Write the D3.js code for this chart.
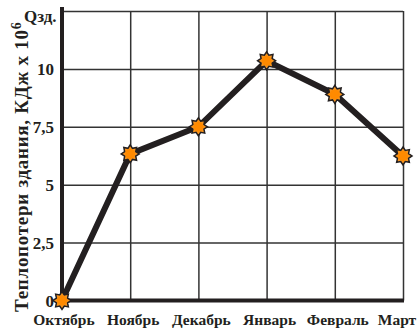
<!DOCTYPE html>
<html><head><meta charset="utf-8">
<script src="https://cdn.jsdelivr.net/npm/d3@7"></script>
<style>body{margin:0;background:#fff}svg{display:block}</style>
</head><body>
<script>
const months = ["Октябрь","Ноябрь","Декабрь","Январь","Февраль","Март"];
const heatLoss = [0, 6.33, 7.5, 10.35, 8.9, 6.24];
const yTicks = [0, 2.5, 5, 7.5, 10];
const yTickLabels = ["0","2,5","5","7,5","10"];
const yTitle = "Теплопотери здания,  КДж х 10";
const yTop = 12.5;

const W = 418, H = 331;
const svg = d3.select("body").append("svg").attr("width", W).attr("height", H);
const x = d3.scalePoint().domain(months).range([62, 403]);
const y = d3.scaleLinear().domain([0, yTop]).range([300.5, 11]);
const dark = "#231f20";
const font = "'Liberation Serif','Times New Roman',serif";

// horizontal grid via axis
const hg = svg.append("g").attr("class", "hgrid")
  .attr("transform", `translate(${x(months[0])},0)`)
  .call(d3.axisRight(y).tickValues([2.5, 5, 7.5, 10, 12.5])
    .tickSize(x(months[5]) - x(months[0])).tickFormat(""));
hg.select(".domain").remove();
hg.selectAll("line").attr("stroke", "#333").attr("stroke-width", 1.5);

// vertical grid via axis
const vg = svg.append("g").attr("class", "vgrid")
  .attr("transform", `translate(0,${y(yTop)})`)
  .call(d3.axisBottom(x).tickValues(months.slice(1))
    .tickSize(y(0) - y(yTop)).tickFormat(""));
vg.select(".domain").remove();
vg.selectAll("line").attr("stroke", "#333").attr("stroke-width", 1.5);

// axes lines
svg.append("path").attr("class", "yaxis")
  .attr("d", `M${x(months[0])},7V${y(0) + 2}`)
  .attr("stroke", dark).attr("stroke-width", 4).attr("fill", "none");
svg.append("path").attr("class", "xaxis")
  .attr("d", `M${x(months[0]) - 2},${y(0)}H${x(months[5]) + 1}`)
  .attr("stroke", dark).attr("stroke-width", 4).attr("fill", "none");

// tick labels
svg.selectAll("text.yl").data(yTicks).join("text").attr("class", "yl")
  .attr("x", 54).attr("y", d => y(d) + 6)
  .attr("text-anchor", "end").attr("font-family", font).attr("font-weight", "bold")
  .attr("font-size", 17).attr("fill", dark)
  .text((d, i) => yTickLabels[i]);

svg.selectAll("text.xl").data(months).join("text").attr("class", "xl")
  .attr("x", (d, i) => x(d) + (i === 5 ? -6 : i === 0 ? 2 : 3)).attr("y", 325)
  .attr("text-anchor", "middle").attr("font-family", font).attr("font-weight", "bold")
  .attr("font-size", 15.5).attr("fill", dark)
  .text(d => d);

// Q label
svg.append("text").attr("x", 24).attr("y", 22)
  .attr("font-family", font).attr("font-weight", "bold").attr("font-size", 17)
  .attr("fill", dark).text("Qзд.");

// y title
const t = svg.append("text").attr("transform", "translate(28,312) rotate(-90)")
  .attr("font-family", font).attr("font-weight", "bold").attr("font-size", 19)
  .attr("fill", dark);
t.append("tspan").attr("textLength", 282).attr("lengthAdjust", "spacing").text(yTitle);
t.append("tspan").attr("dy", -7).attr("font-size", 14).text("6");

// line
svg.append("path").datum(heatLoss).attr("class", "series")
  .attr("fill", "none").attr("stroke", dark).attr("stroke-width", 6)
  .attr("stroke-linejoin", "miter")
  .attr("d", d3.line().x((d, i) => x(months[i])).y(d => y(d)));

// markers
const star = [];
for (let k = 0; k < 16; k++) {
  const r = k % 2 === 0 ? 9 : 6;
  const a = k * Math.PI / 8 - Math.PI / 2;
  star.push([r * Math.cos(a), r * Math.sin(a)]);
}
const mk = svg.selectAll("g.mk").data(heatLoss).join("g").attr("class", "mk")
  .attr("transform", (d, i) => `translate(${x(months[i])},${y(d)})`);
mk.append("polygon").attr("points", star.map(p => p.join(",")).join(" "))
  .attr("fill", "#f7941d").attr("stroke", dark).attr("stroke-width", 1.5);
mk.append("circle").attr("r", 5).attr("fill", "#ff8a00");
</script>
</body></html>
